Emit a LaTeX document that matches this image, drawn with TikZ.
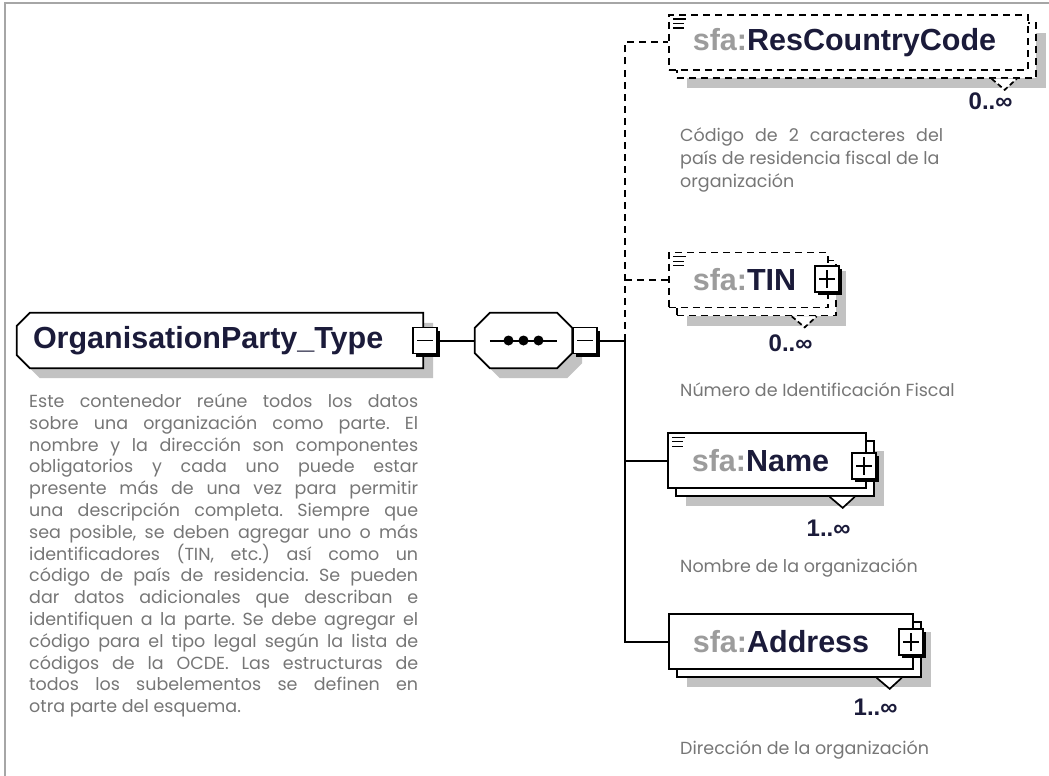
\documentclass[tikz,border=0pt]{standalone}
\usepackage{fontspec}
\setmainfont{Poppins}
\newfontfamily\namefont{Liberation Sans}
\usepackage{tikz}
\usetikzlibrary{shadows,backgrounds}
\frenchspacing

\definecolor{namenavy}{HTML}{1B1B3A}
\definecolor{prefixgray}{HTML}{9C9C9C}
\definecolor{descgray}{HTML}{767676}
\definecolor{shadowgray}{HTML}{C2C2C2}
\definecolor{framegray}{HTML}{A6A6A6}

\tikzset{
  boxline/.style={line width=1.7pt},
  wire/.style={line width=2pt},
  optdash/.style={dash pattern=on 7pt off 5pt},
  grayshadow/.style={general shadow={fill=shadowgray, draw=none, opacity=1,
    shadow xshift=#1, shadow yshift=-#1}},
  backcopy/.style={general shadow={fill=white, draw=black, opacity=1,
    shadow xshift=8pt, shadow yshift=-8pt, #1}},
  elembase/.style={draw, fill=white, boxline, minimum height=55pt, inner xsep=24pt,
    inner ysep=0pt, align=left, anchor=west, text=namenavy,
    font=\namefont\bfseries\fontsize{30.5}{34}\selectfont},
  elem/.style={grayshadow=18pt, backcopy, elembase},
  optelem/.style={grayshadow=18pt, backcopy={optdash}, elembase, optdash},
  typename/.style={minimum width=406pt, minimum height=55pt, inner xsep=16pt,
    inner ysep=0pt, text width=374pt, align=left, text=namenavy,
    font=\namefont\bfseries\fontsize{30.5}{34}\selectfont},
  pmbox/.style={draw, fill=white, line width=1.6pt, minimum width=24pt,
    minimum height=26pt, inner sep=0pt,
    general shadow={fill=black, draw=none, opacity=1, shadow xshift=3pt, shadow yshift=-3pt}},
  minusbox/.style={pmbox, path picture={
    \draw[line width=1.6pt] ([xshift=4pt]path picture bounding box.west)
      -- ([xshift=-4pt]path picture bounding box.east);}},
  plusbox/.style={pmbox, path picture={
    \draw[line width=1.6pt] ([xshift=4pt]path picture bounding box.west)
      -- ([xshift=-4pt]path picture bounding box.east)
      ([yshift=-4pt]path picture bounding box.north)
      -- ([yshift=4pt]path picture bounding box.south);}},
  mult/.style={anchor=east, inner sep=0pt, text=namenavy,
    font=\namefont\bfseries\fontsize{24}{26}\selectfont},
  desc/.style={anchor=west, inner sep=0pt, align=left, text=descgray,
    font=\fontsize{17.5}{21.8}\selectfont},
  rdesc/.style={desc, font=\fontsize{17.5}{23}\selectfont}
}

\begin{document}
\begin{tikzpicture}[x=1pt,y=-1pt]
  \useasboundingbox (0,0) rectangle (1049,776);
  % frame
  \draw[framegray, line width=2pt] (1049,3) -- (5,3) -- (5,776);

  % complex type
  \node[typename] (orgtype) at (220,340.5) {OrganisationParty\_Type};
  \scoped[on background layer]
    \draw[boxline, fill=white, grayshadow=10pt]
      ([xshift=13pt]orgtype.north west) -- (orgtype.north east) -- (orgtype.south east)
      -- ([xshift=13pt]orgtype.south west) -- ([yshift=13pt]orgtype.south west)
      -- ([yshift=-13pt]orgtype.north west) -- cycle;
  \node[minusbox] (orgminus) at (425,340.5) {};

  % sequence
  \node[minimum width=97pt, minimum height=55pt, inner sep=0pt] (seq) at (523.5,340.5) {};
  \draw[boxline, fill=white, grayshadow=10pt]
    ([xshift=15pt]seq.north west) -- ([xshift=-15pt]seq.north east)
    -- ([yshift=-15pt]seq.north east) -- ([yshift=15pt]seq.south east)
    -- ([xshift=-15pt]seq.south east) -- ([xshift=15pt]seq.south west)
    -- ([yshift=15pt]seq.south west) -- ([yshift=-15pt]seq.north west) -- cycle;
  \draw[wire] ([xshift=15pt]seq.west) -- ([xshift=-15pt]seq.east);
  \foreach \dx in {-15,0,15}
    \fill ([xshift=\dx pt]seq.center) circle (5pt);
  \node[minusbox] (seqminus) at (585,340.5) {};
  \coordinate (bus) at (625,340.5);

  % child elements
  \node[optelem, text width=311pt] (rcc) at (668,42.5)
    {\textcolor{prefixgray}{sfa:}ResCountryCode};
  \node[optelem, text width=111pt] (tin) at (668,280) {\textcolor{prefixgray}{sfa:}TIN};
  \node[elem, text width=150pt] (name) at (667,460.5) {\textcolor{prefixgray}{sfa:}Name};
  \node[elem, text width=196pt] (addr) at (668,641.5) {\textcolor{prefixgray}{sfa:}Address};

  \node[plusbox] (tinplus) at (827,279) {};
  \node[plusbox] (nameplus) at (864,466) {};
  \node[plusbox] (addrplus) at (911,642) {};

  % doc icons
  \foreach \n in {rcc,tin,name}
    \draw[line width=1.3pt] ([shift={(5,5)}]\n.north west) -- ++(13,0)
      ([shift={(5,9.5)}]\n.north west) -- ++(11,0)
      ([shift={(5,14)}]\n.north west) -- ++(11,0);

  % occurrence marks
  \foreach \n in {rcc,tin}
    \draw[boxline, fill=white, dash pattern=on 5pt off 3pt]
      ([shift={(-37,8)}]\n.south east) -- ([shift={(-24,19)}]\n.south east)
      -- ([shift={(-12,8)}]\n.south east);
  \foreach \n in {name,addr}
    \draw[boxline, fill=white]
      ([shift={(-37,8)}]\n.south east) -- ([shift={(-24,19)}]\n.south east)
      -- ([shift={(-12,8)}]\n.south east);

  \node[mult] (rccmult) at ([shift={(-16,30)}]rcc.south east) {0..∞};
  \node[mult] (tinmult) at ([shift={(-16,35)}]tin.south east) {0..∞};
  \node[mult] (namemult) at ([shift={(-16,39)}]name.south east) {1..∞};
  \node[mult] (addrmult) at ([shift={(-16,37)}]addr.south east) {1..∞};

  % wires
  \draw[wire] (orgminus.east) -- (seq.west);
  \draw[wire] (seqminus.east) -- (bus);
  \draw[wire, optdash] (bus) -- (bus |- rcc.west) -- (rcc.west);
  \draw[wire, optdash] (bus |- tin.west) -- (tin.west);
  \draw[wire] (bus) -- (bus |- addr.west) -- (addr.west);
  \draw[wire] (bus |- name.west) -- (name.west);

  % documentation
  \node[rdesc] (rccdesc) at (680,160) {%
    \makebox[263pt][s]{Código de 2 caracteres del}\\
    país de residencia fiscal de la\\
    organización};
  \node[desc] (tindesc) at (680,390) {Número de Identificación Fiscal};
  \node[desc] (namedesc) at (680,568) {Nombre de la organización};
  \node[desc] (addrdesc) at (680,750) {Dirección de la organización};

  \node[desc] (orgdesc) at (29,555.5) {%
    \makebox[389pt][s]{Este contenedor reúne todos los datos}\\
    \makebox[389pt][s]{sobre una organización como parte. El}\\
    \makebox[389pt][s]{nombre y la dirección son componentes}\\
    \makebox[389pt][s]{obligatorios y cada uno puede estar}\\
    \makebox[389pt][s]{presente más de una vez para permitir}\\
    \makebox[389pt][s]{una descripción completa. Siempre que}\\
    \makebox[389pt][s]{sea posible, se deben agregar uno o más}\\
    \makebox[389pt][s]{identificadores (TIN, etc.) así como un}\\
    \makebox[389pt][s]{código de país de residencia. Se pueden}\\
    \makebox[389pt][s]{dar datos adicionales que describan e}\\
    \makebox[389pt][s]{identifiquen a la parte. Se debe agregar el}\\
    \makebox[389pt][s]{código para el tipo legal según la lista de}\\
    \makebox[389pt][s]{códigos de la OCDE. Las estructuras de}\\
    \makebox[389pt][s]{todos los subelementos se definen en}\\
    otra parte del esquema.};
\end{tikzpicture}
\end{document}
